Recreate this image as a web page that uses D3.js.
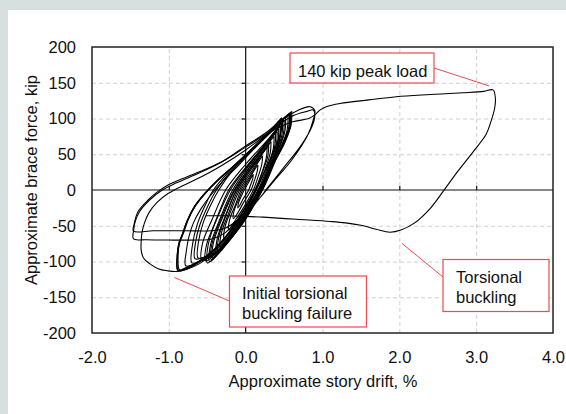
<!DOCTYPE html>
<html><head><meta charset="utf-8">
<script src="https://cdn.jsdelivr.net/npm/d3@7"></script>
<style>
html,body{margin:0;padding:0;background:#d7dfdf;}
svg{display:block;}
text{font-family:"Liberation Sans",Arial,sans-serif;fill:#111;}
</style></head><body>
<svg id="chart" width="566" height="414"></svg>
<script>
// Axis ticks
const driftTicks = [-2, -1, 0, 1, 2, 3, 4];
const forceTicks = [-200, -150, -100, -50, 0, 50, 100, 150, 200];

// Small elastic cycles, each [drift %, brace force kip], starting at the tension peak
const coreLoops = [
  [[0.10,22],[0.09,15],[0.06,6],[0.04,0],[-0.03,-12],[-0.08,-22],[-0.10,-25],[-0.09,-17],[-0.05,-7],[-0.02,0],[0.03,9],[0.08,19],[0.10,22]],
  [[0.16,35],[0.15,26],[0.11,12],[0.07,0],[-0.03,-18],[-0.12,-35],[-0.16,-40],[-0.15,-29],[-0.09,-13],[-0.04,0],[0.04,14],[0.12,29],[0.16,35]],
  [[0.22,48],[0.21,36],[0.16,18],[0.10,0],[-0.03,-25],[-0.17,-48],[-0.22,-56],[-0.21,-42],[-0.13,-20],[-0.06,0],[0.06,20],[0.17,40],[0.22,48]],
  [[0.28,60],[0.27,46],[0.21,24],[0.12,0],[-0.04,-30],[-0.22,-60],[-0.28,-68],[-0.27,-52],[-0.18,-26],[-0.08,0],[0.07,25],[0.22,51],[0.28,60]],
  [[0.30,64],[0.29,48],[0.22,25],[0.13,0],[-0.05,-38],[-0.29,-78],[-0.36,-86],[-0.35,-66],[-0.25,-34],[-0.12,0],[0.05,28],[0.24,55],[0.30,64]],
  [[0.33,68],[0.32,52],[0.25,28],[0.14,0],[-0.04,-36],[-0.27,-72],[-0.33,-80],[-0.32,-62],[-0.22,-32],[-0.10,0],[0.08,30],[0.27,59],[0.33,68]],
  [[0.37,75],[0.36,58],[0.28,31],[0.16,0],[-0.05,-40],[-0.31,-80],[-0.38,-88],[-0.37,-68],[-0.26,-35],[-0.12,0],[0.08,33],[0.30,66],[0.37,75]],
  [[0.39,80],[0.38,62],[0.30,33],[0.18,0],[-0.06,-45],[-0.37,-89],[-0.45,-97],[-0.44,-76],[-0.32,-40],[-0.15,0],[0.07,35],[0.31,70],[0.39,80]],
  [[0.41,82],[0.40,64],[0.31,34],[0.17,0],[-0.06,-44],[-0.35,-87],[-0.43,-95],[-0.42,-74],[-0.30,-38],[-0.14,0],[0.08,36],[0.33,72],[0.41,82]],
  [[0.43,86],[0.42,67],[0.33,36],[0.19,0],[-0.07,-47],[-0.42,-92],[-0.52,-99],[-0.51,-77],[-0.38,-42],[-0.20,0],[0.05,37],[0.34,75],[0.43,86]],
  [[0.45,90],[0.44,70],[0.34,38],[0.19,0],[-0.06,-46],[-0.38,-92],[-0.47,-100],[-0.46,-78],[-0.34,-42],[-0.17,0],[0.07,38],[0.36,78],[0.45,90]],
  [[0.48,96],[0.47,76],[0.36,42],[0.20,0],[-0.07,-48],[-0.45,-92],[-0.57,-98],[-0.56,-74],[-0.44,-42],[-0.26,0],[0.00,36],[0.30,72],[0.48,96]]
];

// Larger cycles approaching brace buckling
const midLoops = [
  [[0.46,94],[0.45,74],[0.35,40],[0.20,0],[-0.06,-48],[-0.40,-94],[-0.50,-102],[-0.49,-78],[-0.42,-52],[-0.32,-24],[-0.22,0],[0.02,34],[0.30,70],[0.46,94]],
  [[0.50,98],[0.49,78],[0.38,45],[0.21,0],[-0.05,-48],[-0.35,-85],[-0.52,-93],[-0.62,-95],[-0.61,-70],[-0.55,-45],[-0.45,-20],[-0.35,0],[-0.15,30],[0.15,62],[0.40,88],[0.50,98]],
  [[0.52,102],[0.51,82],[0.40,48],[0.22,2],[-0.06,-50],[-0.38,-88],[-0.56,-95],[-0.66,-96],[-0.65,-72],[-0.60,-50],[-0.50,-24],[-0.38,0],[-0.18,28],[0.12,60],[0.38,88],[0.52,102]],
  [[0.55,104],[0.54,84],[0.42,50],[0.22,0],[-0.08,-52],[-0.40,-90],[-0.60,-100],[-0.70,-102],[-0.69,-75],[-0.63,-48],[-0.53,-22],[-0.42,0],[-0.20,28],[0.10,60],[0.38,88],[0.55,104]],
  [[0.60,110],[0.59,90],[0.50,64],[0.34,32],[0.21,4],[0.02,-28],[-0.20,-58],[-0.45,-88],[-0.64,-102],[-0.78,-106],[-0.77,-84],[-0.74,-66],[-0.68,-46],[-0.58,-26],[-0.46,-8],[-0.30,12],[-0.08,36],[0.20,68],[0.45,96],[0.60,110]]
];

// Repeated cycles at the buckling amplitude
const bucklingLoops = [
  [[0.585,108],[0.575,88],[0.50,66],[0.35,36],[0.22,8],[0.05,-22],[-0.15,-52],[-0.40,-82],[-0.60,-100],[-0.75,-109],[-0.86,-112],[-0.88,-90],[-0.86,-74],[-0.81,-60],[-0.75,-42],[-0.66,-23],[-0.53,-5],[-0.36,14],[-0.14,35],[0.16,65],[0.42,93],[0.585,108]],
  [[0.57,107],[0.56,87],[0.48,64],[0.34,35],[0.21,7],[0.04,-23],[-0.16,-53],[-0.41,-84],[-0.61,-101],[-0.76,-110],[-0.88,-113],[-0.89,-92],[-0.87,-75],[-0.82,-61],[-0.76,-43],[-0.67,-24],[-0.54,-6],[-0.37,13],[-0.15,34],[0.15,64],[0.41,92],[0.57,107]],
  [[0.47,101],[0.46,82],[0.38,58],[0.24,24],[0.08,-10],[-0.12,-45],[-0.38,-80],[-0.60,-99],[-0.76,-108],[-0.88,-112],[-0.89,-92],[-0.87,-76],[-0.82,-61],[-0.76,-43],[-0.67,-24],[-0.54,-6],[-0.37,13],[-0.15,34],[0.14,63],[0.36,88],[0.47,101]]
];

// Cycles after the initial torsional buckling failure
const postBuckling = [
  [0.585,108],[0.575,88],[0.50,68],[0.35,36],[0.22,6],[0.05,-25],[-0.15,-55],[-0.40,-85],[-0.60,-103],[-0.75,-110],[-0.90,-114],
  [-1.02,-113],[-1.14,-110],[-1.25,-103],[-1.33,-95],[-1.36,-84],[-1.36,-72],
  [-1.35,-60],[-1.32,-47],[-1.26,-32],[-1.15,-17],[-1.01,-5],[-0.82,6],[-0.55,20],[-0.30,35],[0,56],[0.30,80],[0.60,103],[0.80,110],[0.88,112],
  [0.90,104],[0.86,88],[0.72,62],[0.50,32],[0.30,5],[0.10,-22],[-0.10,-42],[-0.28,-54],[-0.45,-57],[-0.80,-57],[-1.20,-57],[-1.46,-57.5],
  [-1.45,-47],[-1.40,-30],[-1.27,-14],[-1.14,-2],[-1.01,7],[-0.82,16],[-0.50,30],[-0.27,42],[-0.01,61],[0.25,79],[0.47,98],[0.69,112],[0.84,116.5],
  [0.90,111],[0.88,98],[0.80,75],[0.60,42],[0.38,14],[0.16,-14],[-0.06,-37],[-0.27,-60],[-0.45,-69],[-0.60,-70],[-1.00,-70],[-1.30,-69.5],[-1.46,-68.5],[-1.46,-58]
];

// Final tension excursion to the 140 kip peak, then torsional buckling
const finalExcursion = [
  [-1.46,-58],[-1.44,-45],[-1.38,-30],[-1.25,-14],[-1.10,-1],[-0.90,10],[-0.60,24],[-0.30,40],[0,60],[0.30,80],[0.60,95],[0.82,100],
  [0.90,105],[0.97,112],[1.05,116.5],[1.23,121],[1.60,126],[1.96,130.5],[2.40,133.5],[2.83,136],[3.10,138],[3.22,140],
  [3.25,128],[3.24,114],[3.19,95],[3.13,78],[2.95,52],[2.76,26],[2.57,-2],[2.40,-26],[2.20,-46],[2.02,-56],[1.88,-59],
  [1.70,-55],[1.53,-50],[1.30,-46],[1.10,-44],[0.66,-41],[0.23,-38],[0.01,-37],[-0.25,-36],[-0.52,-36]
];

const peakLoad = [3.22, 140];

const svg = d3.select("#chart");
const m = {left: 92, right: 553, top: 47, bottom: 333};
const x = d3.scaleLinear().domain([-2, 4]).range([m.left, m.right]);
const y = d3.scaleLinear().domain([-200, 200]).range([m.bottom, m.top]);
const W = m.right - m.left, H = m.bottom - m.top;

// white panel
svg.append("rect").attr("x", 8).attr("y", 10).attr("width", 558).attr("height", 404).attr("fill", "#fff");

// dashed grid
const grid = svg.append("g").attr("class", "grid");
grid.append("g").attr("transform", `translate(0,${m.bottom})`)
  .call(d3.axisBottom(x).tickValues(driftTicks.filter(d => d !== 0 && d !== -2 && d !== 4)).tickSize(-H).tickFormat(""));
grid.append("g").attr("transform", `translate(${m.left},0)`)
  .call(d3.axisLeft(y).tickValues(forceTicks.filter(d => d !== 0 && Math.abs(d) !== 200)).tickSize(-W).tickFormat(""));
grid.selectAll(".domain").remove();
grid.selectAll("line").attr("stroke", "#cfcfcf").attr("stroke-width", 1).attr("stroke-dasharray", "4,3");

// zero axes with small ticks
svg.append("line").attr("x1", m.left).attr("x2", m.right).attr("y1", y(0)).attr("y2", y(0)).attr("stroke", "#111").attr("stroke-width", 1.2);
svg.append("line").attr("x1", x(0)).attr("x2", x(0)).attr("y1", m.top).attr("y2", m.bottom).attr("stroke", "#111").attr("stroke-width", 1.2);
const zx = svg.append("g").attr("transform", `translate(0,${y(0)})`)
  .call(d3.axisTop(x).tickValues([-1, 1, 2, 3]).tickSize(4).tickFormat(""));
const zy = svg.append("g").attr("transform", `translate(${x(0)},0)`)
  .call(d3.axisLeft(y).tickValues([-150, -100, -50, 50, 100, 150]).tickSize(4).tickFormat(""));
[zx, zy].forEach(g => { g.select(".domain").remove(); g.selectAll("line").attr("stroke", "#111").attr("stroke-width", 1.2); });

// hysteresis curves
const line = d3.line().x(d => x(d[0])).y(d => y(d[1])).curve(d3.curveCatmullRom.alpha(0.5));
const curves = svg.append("g").attr("fill", "none").attr("stroke", "#000").attr("stroke-linejoin", "round");
coreLoops.forEach(l => curves.append("path").attr("d", line(l)).attr("stroke-width", 1.1));
midLoops.forEach(l => curves.append("path").attr("d", line(l)).attr("stroke-width", 1.1));
bucklingLoops.forEach(l => curves.append("path").attr("d", line(l)).attr("stroke-width", 1.3));
curves.append("path").attr("d", line(postBuckling)).attr("stroke-width", 1.1);
curves.append("path").attr("d", line(finalExcursion)).attr("stroke-width", 1.1);

// frame
svg.append("rect").attr("x", m.left).attr("y", m.top).attr("width", W).attr("height", H)
  .attr("fill", "none").attr("stroke", "#222").attr("stroke-width", 1.5);

// tick labels
const fs = "16.5px";
const xa = svg.append("g").attr("transform", `translate(0,${m.bottom})`)
  .call(d3.axisBottom(x).tickValues(driftTicks).tickSize(0).tickPadding(18).tickFormat(d => d.toFixed(1)));
const ya = svg.append("g").attr("transform", `translate(${m.left},0)`)
  .call(d3.axisLeft(y).tickValues(forceTicks).tickSize(0).tickPadding(16).tickFormat(d => String(d)));
[xa, ya].forEach(g => { g.select(".domain").remove(); g.selectAll("text").attr("font-size", fs).attr("font-family", "'Liberation Sans', Arial, sans-serif").attr("fill", "#111"); });

// axis titles
svg.append("text").attr("x", 323).attr("y", 386.5).attr("text-anchor", "middle").attr("font-size", fs).text("Approximate story drift, %");
svg.append("text").attr("transform", "translate(37,180) rotate(-90)").attr("text-anchor", "middle").attr("font-size", fs).text("Approximate brace force, kip");

// callouts
const red = "#ee4a4f";
function callout(box, lines, from, to) {
  svg.append("line").attr("x1", from[0]).attr("y1", from[1]).attr("x2", to[0]).attr("y2", to[1]).attr("stroke", red).attr("stroke-width", 1);
  svg.append("rect").attr("x", box[0]).attr("y", box[1]).attr("width", box[2]).attr("height", box[3])
    .attr("fill", "#fff").attr("stroke", red).attr("stroke-width", 1.2);
  lines.forEach(l => svg.append("text").attr("x", l[1]).attr("y", l[2]).attr("font-size", fs).text(l[0]));
}
callout([290, 53, 144, 30], [["140 kip peak load", 298, 76.5]], [434, 68], [x(peakLoad[0]) - 4, y(peakLoad[1]) - 4]);
callout([443, 259.5, 106, 52], [["Torsional", 456, 283], ["buckling", 456, 302.5]], [443, 277], [x(1.97) + 5, y(-58) + 12]);
callout([229.5, 276, 137, 51], [["Initial torsional", 242, 299], ["buckling failure", 242, 319]], [229.5, 301], [x(-0.9) - 2, y(-114) + 6]);
</script>
</body></html>
